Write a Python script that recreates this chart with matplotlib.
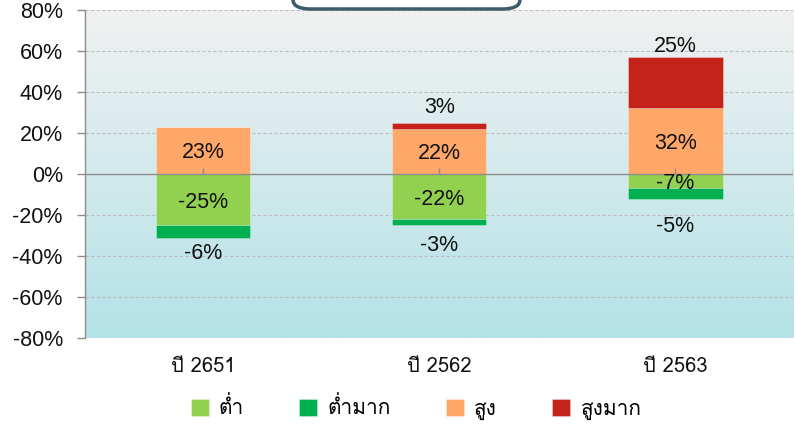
import numpy as np
import matplotlib
matplotlib.use("Agg")
import matplotlib.pyplot as plt
from matplotlib import font_manager as fm
from matplotlib.patches import FancyBboxPatch

# ---------------- data ----------------
categories = ["ปี 2651", "ปี 2562", "ปี 2563"]
low = [-25, -22, -7]          # ต่ำ
very_low = [-6, -3, -5]       # ต่ำมาก
high = [23, 22, 32]           # สูง
very_high = [0, 3, 25]        # สูงมาก
series_names = ["ต่ำ", "ต่ำมาก", "สูง", "สูงมาก"]
y_ticks = [-80, -60, -40, -20, 0, 20, 40, 60, 80]

# label placement (style): distance in pixels of outside labels from bar end
below_offsets_px = [13, 18, 25]
above_offsets_px = [13, 18, 13]
ink_shift_px = -2.5  # visual centring correction for digits

# ---------------- fonts ----------------
thai_font = None
try:
    from fontTools.ttLib import TTFont
    for f in fm.fontManager.ttflist:
        try:
            tt = TTFont(f.fname, fontNumber=0, lazy=True)
            cmap = tt.getBestCmap()
            if cmap and 0x0E1B in cmap and 0x0E48 in cmap and 0x0E33 in cmap:
                thai_font = f.name
                break
        except Exception:
            pass
except Exception:
    pass
thai_family = ([thai_font] if thai_font else []) + ["DejaVu Sans"]
num_family = ["Liberation Sans", "DejaVu Sans"]

colors = ["#92D050", "#00B050", "#FFA768", "#C4231A"]

fig = plt.figure(figsize=(7.95, 4.32), dpi=100)
ax = fig.add_axes([85 / 795, 1 - 338 / 432, 1 - 85 / 795 - 0.002, (338 - 10) / 432])

# gradient background
top_c = np.array([0xF1, 0xF1, 0xF1]) / 255
bot_c = np.array([0xB3, 0xE2, 0xE7]) / 255
t = np.linspace(0, 1, 256)[:, None]
grad = top_c[None, :] * (1 - t) + bot_c[None, :] * t
grad = np.repeat(grad[:, None, :], 2, axis=1)
ax.imshow(grad, extent=[-0.5, 2.5, -80, 80], origin="upper", aspect="auto", zorder=0)

x = np.arange(len(categories))
w = 0.4
low_a = np.array(low)
vlow_a = np.array(very_low)
high_a = np.array(high)
vhigh_a = np.array(very_high)

bar_kw = dict(edgecolor=(1, 1, 1, 0.35), linewidth=0.6, zorder=3)
ax.bar(x, low_a, w, color=colors[0], label=series_names[0], **bar_kw)
ax.bar(x, vlow_a, w, bottom=low_a, color=colors[1], label=series_names[1], **bar_kw)
ax.bar(x, high_a, w, color=colors[2], label=series_names[2], **bar_kw)
ax.bar(x, vhigh_a, w, bottom=high_a, color=colors[3], label=series_names[3], **bar_kw)

px2pt = 72 / 100
lab_kw = dict(fontsize=15.5, family=num_family, color="#111111", zorder=6,
              textcoords="offset points", ha="center", va="center")


def label(txt, xv, yv, dy_px):
    ax.annotate(txt, (xv, yv), xytext=(0, (dy_px + ink_shift_px) * px2pt), **lab_kw)


for i in range(len(categories)):
    label(f"{low_a[i]}%", x[i], low_a[i] / 2, 0)
    label(f"{high_a[i]}%", x[i], high_a[i] / 2, 0)
    label(f"{vlow_a[i]}%", x[i], low_a[i] + vlow_a[i], -below_offsets_px[i])
    if vhigh_a[i] != 0:
        label(f"{vhigh_a[i]}%", x[i], high_a[i] + vhigh_a[i], above_offsets_px[i])

ax.set_xlim(-0.5, 2.5)
ax.set_ylim(-80, 80)
ax.set_yticks(y_ticks)
ax.set_yticklabels([f"{v}%" for v in y_ticks], family=num_family, fontsize=15.5, color="#111111")
for v in y_ticks:
    if v != 0:
        ax.axhline(v, color="#BDBDBD", lw=0.8, ls=(0, (3, 2)), zorder=1)
ax.axhline(0, color="#8C8C8C", lw=1.0, zorder=4)
# small category tick marks on the zero axis
ax.vlines(list(x) + [2.497], 0, 3, color="#8C8C8C", lw=1.0, zorder=5)

ax.set_xticks(x)
ax.set_xticklabels(categories, family=thai_family, fontsize=14.5, color="#111111")
ax.tick_params(axis="x", length=0, pad=14)
ax.tick_params(axis="y", length=6, color="#8C8C8C", width=1, pad=10)
for s in ["top", "right", "bottom"]:
    ax.spines[s].set_visible(False)
ax.spines["left"].set_color("#8C8C8C")
ax.spines["left"].set_linewidth(1.0)

# legend
handles, labels = ax.get_legend_handles_labels()
leg = fig.legend(handles, labels, loc="center", bbox_to_anchor=(416 / 795, 1 - 408 / 432), ncol=4,
                 frameon=False, prop={"family": thai_family, "size": 15},
                 handlelength=0.87, handleheight=0.87, handletextpad=0.48, columnspacing=2.65)

# title box (cut off at the top)
box = FancyBboxPatch((293 / 795, 1 - 9 / 432), (520 - 293) / 795, 0.1,
                     boxstyle="round,pad=0,rounding_size=0.022", transform=fig.transFigure,
                     facecolor="white", edgecolor="#3B5D69", linewidth=2.5, zorder=10)
fig.add_artist(box)

fig.savefig("out.png", dpi=100)
